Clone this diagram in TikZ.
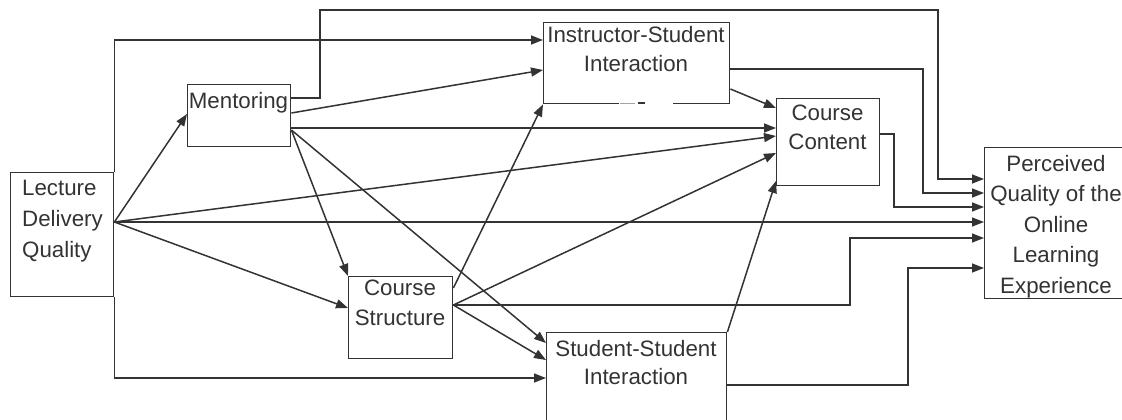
\documentclass[tikz,border=0pt]{standalone}
\usepackage{fontspec}
\setmainfont{Liberation Sans}
\usetikzlibrary{arrows.meta}
\definecolor{ink}{HTML}{333333}
\begin{document}
\begin{tikzpicture}[x=1pt,y=-1pt,
  box/.style={draw=ink,line width=1.4pt,inner sep=0pt,anchor=north west},
  lbl/.style={text=ink,font=\fontsize{22.3}{30}\selectfont,inner sep=0pt,anchor=north,align=center},
  lbltwo/.style={lbl,font=\fontsize{22.3}{29}\selectfont},
  conn/.style={draw=ink,line width=1.5pt,-{Triangle[length=12pt,width=9pt]}},
  wire/.style={draw=ink,line width=1.5pt}]
\useasboundingbox (0,0) rectangle (1122,420);
\clip (0,0) rectangle (1122,420);

% construct boxes
\node[box,minimum width=103pt,minimum height=124pt] (ldq) at (10,172) {};
\node[box,minimum width=103pt,minimum height=62pt]  (men) at (187,84) {};
\node[box,minimum width=186pt,minimum height=81pt]  (isi) at (543,22) {};
\node[box,minimum width=103pt,minimum height=87pt]  (cc)  at (776,98) {};
\node[box,minimum width=170pt,minimum height=151pt] (pq)  at (984,147) {};
\node[box,minimum width=104pt,minimum height=82pt]  (cs)  at (348,276) {};
\node[box,minimum width=180pt,minimum height=90pt]  (ssi) at (546,332) {};

% broken stretch of the lower edge of the instructor box
\fill[white] (619,99) rectangle (673,107);
\draw[ink!45,line width=1pt] (620,103) -- (635,103);
\draw[ink,line width=1.4pt] (638,103) -- (645,103);

% box texts
\node[lbl,anchor=north west,align=left,font=\fontsize{22.3}{31}\selectfont] (ldqt) at (22,180) {Lecture\\Delivery\\Quality};
\node[lbl] (ment) at (238.5,92) {Mentoring};
\node[lbltwo] (isit) at (636,26) {Instructor-Student\\Interaction};
\node[lbltwo] (cct) at (827.5,105) {Course\\Content};
\node[lbl] (cst) at (400,280) {Course\\Structure};
\node[lbltwo,font=\fontsize{22.3}{28}\selectfont] (ssit) at (636,340) {Student-Student\\Interaction};
\node[lbl,font=\fontsize{22.3}{30.5}\selectfont] (pqt) at (1056,155) {Perceived\\Quality of the\\Online\\Learning\\Experience};

% paths from Lecture Delivery Quality
\draw[conn] (ldq.north east) |- (isi.west |- 0,40);
\draw[conn] (ldq.east |- 0,222) -- (men.west |- 0,114);
\draw[conn] (ldq.east |- 0,222) -- (cc.west |- 0,136);
\draw[conn] (ldq.east |- 0,222) -- (pq.west |- 0,222);
\draw[conn] (ldq.east |- 0,222) -- (cs.west |- 0,308);
\draw[conn] (ldq.south east) |- (ssi.west |- 0,378);

% paths from Mentoring
\draw[conn] (men.east |- 0,98) -- (320,98) -- (320,10) -- (938,10) -- (938,179) -- (pq.west |- 0,179);
\draw[conn] (men.east |- 0,113) -- (isi.west |- 0,70);
\draw[conn] (men.east |- 0,128) -- (cc.west |- 0,128);
\draw[conn] (men.east |- 0,130) -- (cs.north west);
\draw[conn] (men.east |- 0,130) -- (ssi.west |- 0,343);

% paths from Course Structure
\draw[conn] (cs.east |- 0,288) -- (isi.south west);
\draw[conn] (cs.east |- 0,305) -- (cc.west |- 0,153);
\draw[conn] (cs.east |- 0,305) -- (850,305) -- (850,238) -- (pq.west |- 0,238);
\draw[conn] (cs.east |- 0,305) -- (ssi.west |- 0,360);

% paths from Instructor-Student Interaction
\draw[conn] (isi.east |- 0,69) -- (923,69) -- (923,193) -- (pq.west |- 0,193);
\draw[conn] (isi.east |- 0,89) -- (cc.west |- 0,108);

% paths from Student-Student Interaction
\draw[conn] (ssi.north east) -- (cc.west |- 0,181);
\draw[conn] (ssi.east |- 0,385) -- (908,385) -- (908,268) -- (pq.west |- 0,268);

% path from Course Content
\draw[conn] (cc.east |- 0,134) -- (894,134) -- (894,207) -- (pq.west |- 0,207);
\end{tikzpicture}
\end{document}
